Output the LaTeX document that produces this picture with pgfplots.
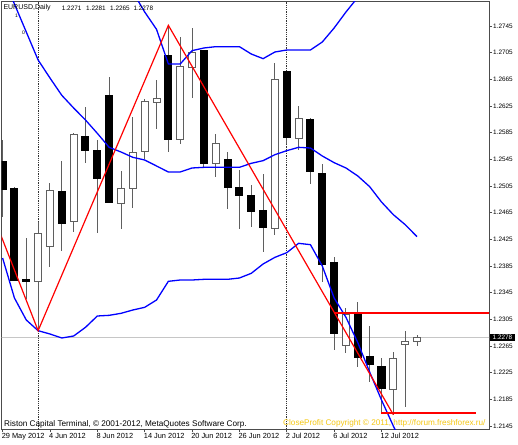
\documentclass[border=0pt]{standalone}
\usepackage{pgfplots}
\pgfplotsset{compat=1.18}
\usepackage{pgfplotstable}
\usepackage{fontspec}
\setmainfont{Liberation Sans}

\definecolor{wick}{RGB}{95,95,95}
\definecolor{cpyellow}{RGB}{245,200,20}
\definecolor{mtblue}{RGB}{0,0,255}
\definecolor{mtred}{RGB}{255,0,0}

% bullish (white) candles: index, open, high, low, close
\pgfplotstableread{
x o h l c
3 1.2361 1.2451 1.2288 1.2433
4 1.2415 1.2509 1.2384 1.2498
6 1.2451 1.2584 1.2436 1.2582
10 1.2479 1.2528 1.2441 1.2502
11 1.2501 1.2609 1.2472 1.2556
12 1.2556 1.2635 1.2546 1.2632
13 1.2630 1.2664 1.2590 1.2637
15 1.2574 1.2728 1.2568 1.2684
16 1.2683 1.2742 1.2637 1.2706
18 1.2539 1.2583 1.2519 1.2569
23 1.2441 1.2689 1.2432 1.2664
25 1.2576 1.2625 1.2559 1.2607
29 1.2266 1.2322 1.2254 1.2312
33 1.2200 1.2256 1.2162 1.2247
34 1.2267 1.2288 1.2173 1.2271
35 1.2271 1.2281 1.2265 1.2278
}\bull

% bearish (black) candles
\pgfplotstableread{
x o h l c
0 1.2542 1.2574 1.2459 1.2500
1 1.2502 1.2503 1.2362 1.2363
2 1.2365 1.2427 1.2335 1.2362
5 1.2497 1.2542 1.2408 1.2449
7 1.2580 1.2624 1.2539 1.2559
8 1.2559 1.2574 1.2435 1.2516
9 1.2640 1.2668 1.2479 1.2480
14 1.2700 1.2746 1.2556 1.2575
17 1.2708 1.2708 1.2532 1.2538
19 1.2545 1.2556 1.2470 1.2502
20 1.2503 1.2529 1.2440 1.2490
21 1.2490 1.2507 1.2444 1.2467
22 1.2468 1.2523 1.2406 1.2442
24 1.2676 1.2678 1.2568 1.2577
26 1.2605 1.2607 1.2508 1.2526
27 1.2524 1.2538 1.2361 1.2388
28 1.2390 1.2399 1.2259 1.2284
30 1.2313 1.2331 1.2234 1.2247
31 1.2249 1.2295 1.2211 1.2237
32 1.2235 1.2247 1.2165 1.2201
}\bear

% Bollinger bands: middle, lower, upper
\pgfplotstableread{
x mb lb ub
0 1.2820 1.2397 nan
1 1.2778 1.2337 nan
2 1.2736 1.2304 nan
3 1.2694 1.2288 nan
4 1.2667 1.2283 nan
5 1.2641 1.2277 nan
6 1.2622 1.2280 nan
7 1.2604 1.2293 nan
8 1.2584 1.2310 nan
9 1.2563 1.2311 1.2859
10 1.2556 1.2314 1.2829
11 1.2548 1.2319 1.2796
12 1.2544 1.2323 1.2766
13 1.2535 1.2334 1.2740
14 1.2526 1.2362 1.2688
15 1.2526 1.2364 1.2688
16 1.2532 1.2364 1.2708
17 1.2533 1.2365 1.2712
18 1.2533 1.2365 1.2714
19 1.2533 1.2365 1.2714
20 1.2533 1.2367 1.2714
21 1.2539 1.2374 1.2703
22 1.2543 1.2388 1.2696
23 1.2552 1.2398 1.2706
24 1.2558 1.2405 1.2709
25 1.2563 1.2419 1.2709
26 1.2562 1.2417 1.2709
27 1.2550 1.2385 1.2721
28 1.2540 1.2337 1.2742
29 1.2532 1.2308 1.2766
30 1.2520 1.2270 1.2788
31 1.2504 1.2226 1.2814
32 1.2481 1.2184 1.2840
33 1.2462 1.2145 1.2866
34 1.2447 1.2109 1.2890
35 1.2429 1.2080 1.2915
}\bands

% ZigZag vertices
\pgfplotstableread{
x y
-1 1.2470
3 1.2288
14 1.2746
33 1.2162
}\zigzag

\begin{document}
\begin{tikzpicture}
\path[use as bounding box] (0,0) rectangle (518pt,444pt);
\fill[white] (0,0) rectangle (518pt,444pt);
\begin{axis}[
  at={(1.7pt,14.7pt)}, anchor=south west,
  scale only axis, width=487.3pt, height=427.6pt,
  xmin=-0.076, xmax=41.08, ymin=1.214005, ymax=1.278145,
  axis line style={black!70, line width=0.7pt},
  tick align=outside, major tick length=3pt,
  tick style={black!70, line width=0.6pt},
  xtick pos=left, ytick pos=right, yticklabel pos=right,
  scaled y ticks=false,
  xtick={0,4,8,12,16,20,24,28,32},
  xticklabels={29 May 2012,4 Jun 2012,8 Jun 2012,14 Jun 2012,20 Jun 2012,26 Jun 2012,2 Jul 2012,6 Jul 2012,12 Jul 2012},
  ytick={1.2145,1.2185,1.2225,1.2265,1.2305,1.2345,1.2385,1.2425,1.2465,1.2505,1.2545,1.2585,1.2625,1.2665,1.2705,1.2745},
  yticklabels={1.2145,1.2185,1.2225,1.2265,1.2305,1.2345,1.2385,1.2425,1.2465,1.2505,1.2545,1.2585,1.2625,1.2665,1.2705,1.2745},
  xticklabel style={font=\fontsize{7.4}{8}\selectfont, anchor=north west, inner sep=0pt, xshift=-1pt, yshift=-1pt},
  yticklabel style={font=\fontsize{6.4}{7}\selectfont, anchor=west, inner sep=0pt, xshift=1pt},
]
% current price line and period separators
\addplot[gray!45, line width=0.8pt] coordinates {(-1,1.2278) (42,1.2278)};
\addplot[densely dotted, black!80, line width=0.8pt] coordinates {(3,1.20) (3,1.29)};
\addplot[densely dotted, black!80, line width=0.8pt] coordinates {(24,1.20) (24,1.29)};
% wicks
\addplot[draw=none, mark=none, error bars/.cd, y dir=both, y explicit, error mark=none,
  error bar style={draw=wick, line width=1pt, solid}]
  table[x=x, y expr={(\thisrow{h}+\thisrow{l})/2}, y error expr={(\thisrow{h}-\thisrow{l})/2}] {\bull};
\addplot[draw=none, mark=none, error bars/.cd, y dir=both, y explicit, error mark=none,
  error bar style={draw=wick, line width=1pt, solid}]
  table[x=x, y expr={(\thisrow{h}+\thisrow{l})/2}, y error expr={(\thisrow{h}-\thisrow{l})/2}] {\bear};
% bodies
\addplot[draw=none, mark=none, error bars/.cd, y dir=both, y explicit, error mark=none,
  error bar style={draw=black, line width=8pt, solid}]
  table[x=x, y expr={(\thisrow{o}+\thisrow{c})/2}, y error expr={(\thisrow{o}-\thisrow{c})/2+0.000075}] {\bear};
\addplot[draw=none, mark=none, error bars/.cd, y dir=both, y explicit, error mark=none,
  error bar style={draw=wick, line width=8pt, solid}]
  table[x=x, y expr={(\thisrow{o}+\thisrow{c})/2}, y error expr={(\thisrow{c}-\thisrow{o})/2+0.000075}] {\bull};
\addplot[draw=none, mark=none, error bars/.cd, y dir=both, y explicit, error mark=none,
  error bar style={draw=white, line width=6pt, solid}]
  table[x=x, y expr={(\thisrow{o}+\thisrow{c})/2}, y error expr={(\thisrow{c}-\thisrow{o})/2-0.000075}] {\bull};
% indicators
\addplot[mtblue, line width=1.3pt] table[x=x, y=ub] {\bands};
\addplot[mtblue, line width=1.3pt] table[x=x, y=mb] {\bands};
\addplot[mtblue, line width=1.3pt] table[x=x, y=lb] {\bands};
\addplot[mtred, line width=1.2pt] table[x=x, y=y] {\zigzag};
\addplot[mtred, line width=2pt] coordinates {(28,1.2315) (42,1.2315)};
\addplot[mtred, line width=2pt] coordinates {(32,1.2165) (40,1.2165)};
\coordinate (cp) at (axis cs:41.08,1.2278);
\end{axis}
\node[fill=black, text=white, anchor=west, inner xsep=2.5pt, inner ysep=1pt, font=\fontsize{6.4}{7}\selectfont] at ([xshift=1pt]cp) {1.2278};
\node[anchor=west, inner sep=0pt, font=\fontsize{7}{8}\selectfont] at (3.3pt,436pt) {EURUSD,Daily};
\node[anchor=west, inner sep=0pt, font=\fontsize{6.4}{7}\selectfont] at (61.7pt,436pt) {1.2271};
\node[anchor=west, inner sep=0pt, font=\fontsize{6.4}{7}\selectfont] at (86pt,436pt) {1.2281};
\node[anchor=west, inner sep=0pt, font=\fontsize{6.4}{7}\selectfont] at (110pt,436pt) {1.2265};
\node[anchor=west, inner sep=0pt, font=\fontsize{6.4}{7}\selectfont] at (133.3pt,436pt) {1.2278};
\node[anchor=center, inner sep=0pt, font=\fontsize{5}{6}\selectfont] at (16.5pt,428.5pt) {1};
\node[anchor=center, inner sep=0pt, font=\fontsize{5}{6}\selectfont] at (23.5pt,411.5pt) {0};
\node[anchor=base west, inner sep=0pt, font=\fontsize{8.2}{9}\selectfont] at (4pt,17.3pt) {Riston Capital Terminal, © 2001-2012, MetaQuotes Software Corp.};
\node[anchor=base west, inner sep=0pt, text=cpyellow, font=\fontsize{8.2}{9}\selectfont] at (283pt,18.7pt) {CloseProfit Copyright © 2011, http://forum.freshforex.ru/};
\end{tikzpicture}
\end{document}
